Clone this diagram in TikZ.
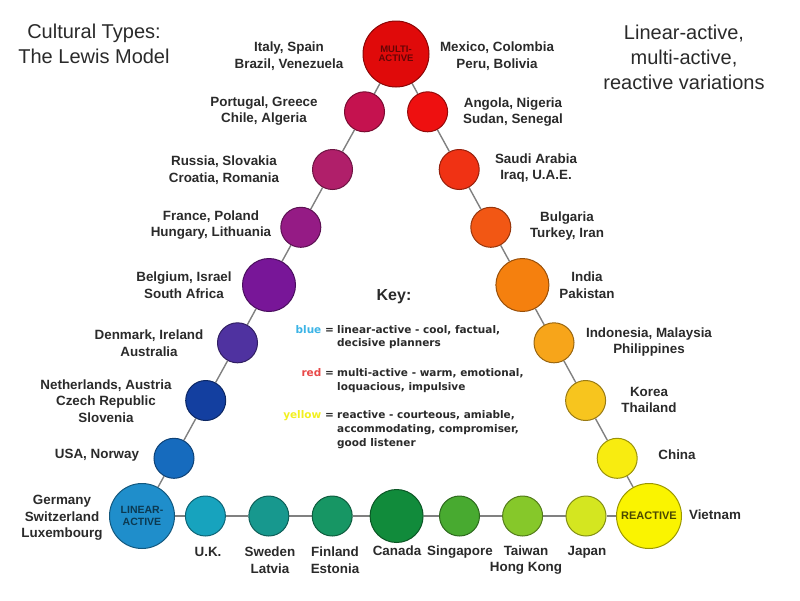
\documentclass[tikz,border=0pt]{standalone}
\usepackage{fontspec}
\setmainfont{Liberation Sans}
\newfontfamily\keyfont{DejaVu Sans}
\usetikzlibrary{backgrounds}
\definecolor{txt}{HTML}{2A2A2A}
\definecolor{linkgray}{HTML}{808080}
\definecolor{cmt}{HTML}{E00A0A}
\definecolor{cpt}{HTML}{C5124F}
\definecolor{cru}{HTML}{B01F6A}
\definecolor{cfr}{HTML}{951B85}
\definecolor{cbe}{HTML}{781698}
\definecolor{cde}{HTML}{4F32A0}
\definecolor{cne}{HTML}{133FA0}
\definecolor{cus}{HTML}{166BBE}
\definecolor{cla}{HTML}{1F8ECB}
\definecolor{cuk}{HTML}{17A3BE}
\definecolor{csw}{HTML}{17988E}
\definecolor{cfi}{HTML}{179664}
\definecolor{cca}{HTML}{118B3B}
\definecolor{csi}{HTML}{48AA30}
\definecolor{cta}{HTML}{86C82A}
\definecolor{cja}{HTML}{D4E620}
\definecolor{cre}{HTML}{FAF400}
\definecolor{cch}{HTML}{F8EC10}
\definecolor{cko}{HTML}{F7C51E}
\definecolor{cid}{HTML}{F7A51A}
\definecolor{cin}{HTML}{F5800E}
\definecolor{cbu}{HTML}{F25714}
\definecolor{csa}{HTML}{F03214}
\definecolor{can}{HTML}{EE1010}
\definecolor{keyblue}{HTML}{3CB4E6}
\definecolor{keyred}{HTML}{E84848}
\definecolor{keyyellow}{HTML}{F2F020}
\tikzset{
  dot/.style={circle, inner sep=0pt, line width=1pt, fill=#1, draw=#1!62!black},
  sm/.style={dot=#1, minimum size=40pt},
  md/.style={dot=#1, minimum size=53pt},
  lg/.style={dot=#1, minimum size=65pt},
  lbl/.style={font=\fontsize{13.4}{16.5}\selectfont\bfseries, text=txt, align=center, inner sep=0pt},
  ttl/.style={font=\fontsize{#1}{25}\selectfont, text=txt, align=center, inner sep=0pt},
  keytxt/.style={font=\keyfont\bfseries\fontsize{10.5}{13}\selectfont, text=txt, inner sep=0pt},
  link/.style={draw=linkgray, line width=1.4pt},
  intxt/.style={font=\bfseries\fontsize{#1}{#1}\selectfont, align=center, inner sep=0pt}
}
\begin{document}
\begin{tikzpicture}[x=1pt,y=-1pt]
\useasboundingbox (0,0) rectangle (800,600);
% titles
\node[ttl=20] (t1) at (94,44) {Cultural Types:\\The Lewis Model};
\node[ttl=20] (t2) at (684,57) {Linear-active,\\multi-active,\\reactive variations};
% corner circles
\node[lg=cmt, minimum size=66pt] (mt) at (396,54) {};
\node[intxt=9.5, text=cmt!45!black] at (mt) {MULTI-\\[0pt]ACTIVE};
\node[lg=cla] (la) at (142,516) {};
\node[intxt=10.5, text=cla!40!black] at (la) {LINEAR-\\[1pt]ACTIVE};
\node[lg=cre] (re) at (649,516) {};
\node[intxt=11, text=cre!30!black] at (re) {REACTIVE};
% left side
\node[sm=cpt] (pt) at (364.5,111.8) {};
\node[sm=cru] (ru) at (332.5,169.5) {};
\node[sm=cfr] (fr) at (300.8,227.3) {};
\node[md=cbe] (be) at (269,285) {};
\node[sm=cde] (de) at (237.5,342.8) {};
\node[sm=cne] (ne) at (205.7,400.5) {};
\node[sm=cus] (us) at (174,458.3) {};
% right side
\node[sm=can] (an) at (427.6,111.8) {};
\node[sm=csa] (sa) at (459.2,169.5) {};
\node[sm=cbu] (bu) at (490.8,227.3) {};
\node[md=cin] (in) at (522.4,285) {};
\node[sm=cid] (id) at (554,342.8) {};
\node[sm=cko] (ko) at (585.6,400.5) {};
\node[sm=cch] (ch) at (617.2,458.3) {};
% bottom
\node[sm=cuk] (uk) at (205.4,516) {};
\node[sm=csw] (sw) at (268.8,516) {};
\node[sm=cfi] (fi) at (332.2,516) {};
\node[md=cca] (ca) at (396.6,516) {};
\node[sm=csi] (si) at (459.5,516) {};
\node[sm=cta] (ta) at (522.6,516) {};
\node[sm=cja] (ja) at (586,516) {};
\begin{scope}[on background layer]
\draw[link] (mt) -- (pt) -- (ru) -- (fr) -- (be) -- (de) -- (ne) -- (us) -- (la);
\draw[link] (mt) -- (an) -- (sa) -- (bu) -- (in) -- (id) -- (ko) -- (ch) -- (re);
\draw[link] (la) -- (uk) -- (sw) -- (fi) -- (ca) -- (si) -- (ta) -- (ja) -- (re);
\end{scope}
% country labels
\node[lbl] (lmt1) at (289,56) {Italy, Spain\\Brazil, Venezuela};
\node[lbl] (lmt2) at (497,56) {Mexico, Colombia\\Peru, Bolivia};
\node[lbl] (lpt) at (264,111) {Portugal, Greece\\Chile, Algeria};
\node[lbl] (lan) at (513,112) {Angola, Nigeria\\Sudan, Senegal};
\node[lbl] (lru) at (224,170) {Russia, Slovakia\\Croatia, Romania};
\node[lbl] (lsa) at (536,168) {Saudi Arabia\\Iraq, U.A.E.};
\node[lbl] (lfr) at (211,225) {France, Poland\\Hungary, Lithuania};
\node[lbl] (lbu) at (567,226) {Bulgaria\\Turkey, Iran};
\node[lbl] (lbe) at (184,285) {Belgium, Israel\\South Africa};
\node[lbl] (lin) at (587,285) {India\\Pakistan};
\node[lbl] (lde) at (149,343) {Denmark, Ireland\\Australia};
\node[lbl] (lid) at (649,342) {Indonesia, Malaysia\\Philippines};
\node[lbl] (lne) at (106,401) {Netherlands, Austria\\Czech Republic\\Slovenia};
\node[lbl] (lko) at (649,400) {Korea\\Thailand};
\node[lbl] (lus) at (97,455) {USA, Norway};
\node[lbl] (lch) at (677,455) {China};
\node[lbl] (lla) at (62,518) {Germany\\Switzerland\\Luxembourg};
\node[lbl] (lre) at (715,515) {Vietnam};
\node[lbl] (luk) at (208,552) {U.K.};
\node[lbl] (lsw) at (270,560) {Sweden\\Latvia};
\node[lbl] (lfi) at (335,560) {Finland\\Estonia};
\node[lbl] (lca) at (397,551) {Canada};
\node[lbl] (lsi) at (460,552) {Singapore};
\node[lbl] (lta) at (526,560) {Taiwan\\Hong Kong};
\node[lbl] (lja) at (587,552) {Japan};
% key
\node[font=\bfseries\fontsize{16}{16}\selectfont, text=txt, inner sep=0pt] (key) at (394,297) {Key:};
\node[keytxt, anchor=base east] (kb) at (334,333) {\textcolor{keyblue}{blue} =};
\node[keytxt, anchor=base west] (kb1) at (337,333) {linear-active - cool, factual,};
\node[keytxt, anchor=base west] (kb2) at (337,346) {decisive planners};
\node[keytxt, anchor=base east] (kr) at (334,376) {\textcolor{keyred}{red} =};
\node[keytxt, anchor=base west] (kr1) at (337,376) {multi-active - warm, emotional,};
\node[keytxt, anchor=base west] (kr2) at (337,390) {loquacious, impulsive};
\node[keytxt, anchor=base east] (ky) at (334,418) {\textcolor{keyyellow}{yellow} =};
\node[keytxt, anchor=base west] (ky1) at (337,418) {reactive - courteous, amiable,};
\node[keytxt, anchor=base west] (ky2) at (337,432) {accommodating, compromiser,};
\node[keytxt, anchor=base west] (ky3) at (337,446) {good listener};
\end{tikzpicture}
\end{document}
